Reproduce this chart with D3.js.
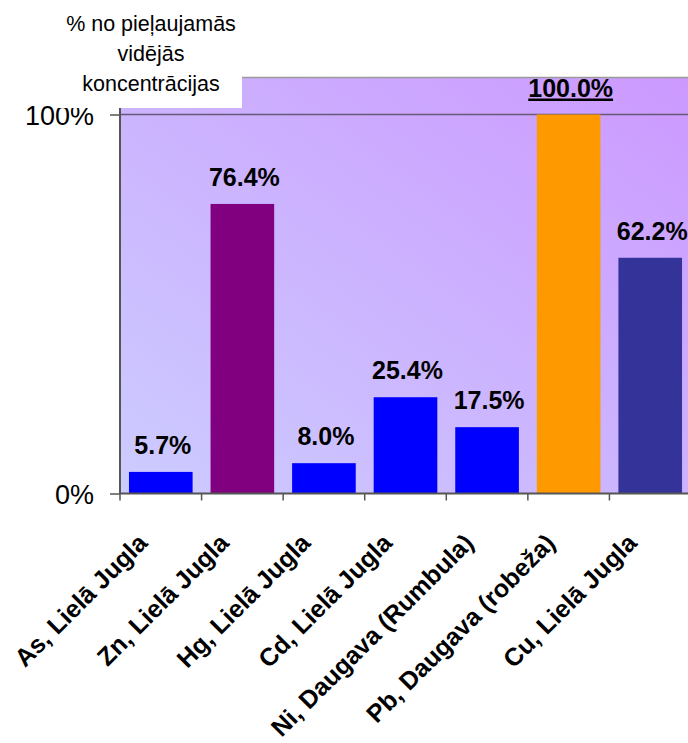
<!DOCTYPE html>
<html>
<head>
<meta charset="utf-8">
<script src="https://cdn.jsdelivr.net/npm/d3@7"></script>
<style>
  html, body { margin: 0; padding: 0; background: #ffffff; }
  svg { display: block; font-family: "Liberation Sans", Arial, sans-serif; }
</style>
</head>
<body>
<svg id="chart" width="688" height="743"></svg>
<script>
// Share of the permissible mean concentration, by element and site
const categories = [
  "As, Lielā Jugla",
  "Zn, Lielā Jugla",
  "Hg, Lielā Jugla",
  "Cd, Lielā Jugla",
  "Ni, Daugava (Rumbula)",
  "Pb, Daugava (robeža)",
  "Cu, Lielā Jugla"
];
const values = [5.7, 76.4, 8.0, 25.4, 17.5, 100.0, 62.2];
const barColors = ["#0000ff", "#800080", "#0000ff", "#0000ff", "#0000ff", "#ff9900", "#333399"];
const yTicks = [0, 100];
const titleLines = ["% no pieļaujamās", "vidējās", "koncentrācijas"];

const svg = d3.select("#chart");

const plot = { left: 120, right: 691, top: 77, bottom: 493.5 };

const x = d3.scaleBand()
  .domain(categories)
  .range([plot.left, plot.right])
  .padding(0);

const y = d3.scaleLinear()
  .domain([0, 100])
  .range([plot.bottom, 114.5]);

// Background gradient of the plot area
const defs = svg.append("defs");
const grad = defs.append("linearGradient")
  .attr("id", "bg")
  .attr("x1", "0%").attr("y1", "100%")
  .attr("x2", "100%").attr("y2", "0%");
grad.append("stop").attr("offset", "0%").attr("stop-color", "#ccccff");
grad.append("stop").attr("offset", "100%").attr("stop-color", "#cc99ff");

svg.append("rect")
  .attr("x", plot.left)
  .attr("y", plot.top)
  .attr("width", plot.right - plot.left)
  .attr("height", plot.bottom - plot.top)
  .attr("fill", "url(#bg)");

// Top border of the plot area
svg.append("line")
  .attr("x1", plot.left).attr("x2", plot.right)
  .attr("y1", plot.top + 0.5).attr("y2", plot.top + 0.5)
  .attr("stroke", "#9a9a9a")
  .attr("stroke-width", 1.5);

// Horizontal gridline at 100%
svg.append("g")
  .selectAll("line")
  .data(yTicks.filter(d => d > 0))
  .join("line")
  .attr("x1", plot.left).attr("x2", plot.right)
  .attr("y1", d => y(d)).attr("y2", d => y(d))
  .attr("stroke", "#665a7a")
  .attr("stroke-width", 1.5);

// Bars
const barW = x.bandwidth() * 0.78;
svg.append("g")
  .selectAll("rect")
  .data(values)
  .join("rect")
  .attr("x", (d, i) => x(categories[i]) + (x.bandwidth() - barW) / 2)
  .attr("y", d => y(d))
  .attr("width", barW)
  .attr("height", d => y(0) - y(d))
  .attr("fill", (d, i) => barColors[i]);

// Value labels
const fmt = d => d.toFixed(1) + "%";
svg.append("g")
  .selectAll("text")
  .data(values)
  .join("text")
  .attr("x", (d, i) => x(categories[i]) + x.bandwidth() / 2 + 2)
  .attr("y", d => y(d) - 18)
  .attr("text-anchor", "middle")
  .attr("font-size", 25)
  .attr("font-weight", "bold")
  .attr("fill", "#000")
  .attr("text-decoration", d => d >= 100 ? "underline" : null)
  .text(fmt);

// Y axis
const yAxis = svg.append("g")
  .attr("transform", `translate(${plot.left},0)`)
  .call(d3.axisLeft(y).tickValues(yTicks).tickSize(10).tickPadding(16).tickFormat(d => d + "%"));
yAxis.select(".domain").remove();
yAxis.selectAll(".tick line").attr("stroke", "#555").attr("stroke-width", 1.5);
yAxis.selectAll(".tick text")
  .attr("font-size", 27)
  .attr("font-family", "\"Liberation Sans\", Arial, sans-serif")
  .attr("fill", "#000")
  .attr("dy", "0.36em");
yAxis.append("line")
  .attr("x1", 0).attr("x2", 0)
  .attr("y1", plot.top).attr("y2", plot.bottom)
  .attr("stroke", "#555")
  .attr("stroke-width", 2);

// X axis line and tick marks at band boundaries
const xAxisG = svg.append("g");
xAxisG.append("line")
  .attr("x1", plot.left).attr("x2", plot.right)
  .attr("y1", plot.bottom).attr("y2", plot.bottom)
  .attr("stroke", "#555")
  .attr("stroke-width", 2);
xAxisG.selectAll("line.tk")
  .data(categories)
  .join("line")
  .attr("class", "tk")
  .attr("x1", d => x(d)).attr("x2", d => x(d))
  .attr("y1", plot.bottom).attr("y2", plot.bottom + 7)
  .attr("stroke", "#555")
  .attr("stroke-width", 1.5);

// Rotated category labels
xAxisG.selectAll("text")
  .data(categories)
  .join("text")
  .attr("transform", d => `translate(${x(d) + x.bandwidth() / 2 - 12},${plot.bottom + 51}) rotate(-45)`)
  .attr("text-anchor", "end")
  .attr("font-size", 25)
  .attr("font-weight", "bold")
  .attr("fill", "#000")
  .text(d => d);

// Axis title box
svg.append("rect")
  .attr("x", 56).attr("y", 0)
  .attr("width", 186).attr("height", 108)
  .attr("fill", "#ffffff");

svg.append("g")
  .selectAll("text")
  .data(titleLines)
  .join("text")
  .attr("x", 151)
  .attr("y", (d, i) => 31 + i * 30)
  .attr("text-anchor", "middle")
  .attr("font-size", 21.5)
  .attr("fill", "#000")
  .text(d => d);
</script>
</body>
</html>
